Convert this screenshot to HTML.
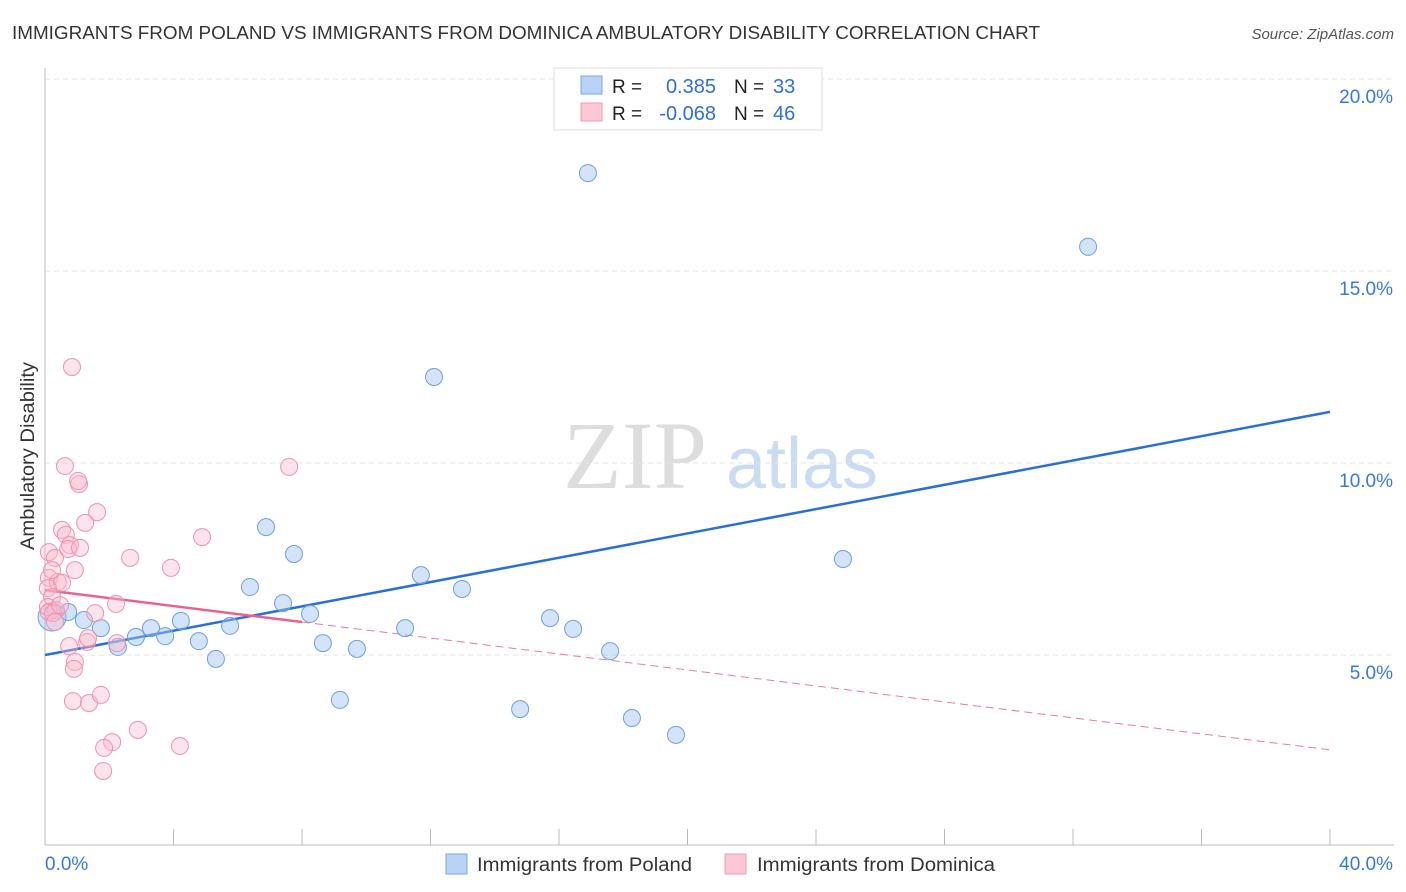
<!DOCTYPE html>
<html><head><meta charset="utf-8"><style>
body{margin:0;background:#fff;font-family:"Liberation Sans",sans-serif;}
svg{display:block}
</style></head><body>
<svg id="chart" width="1406" height="892" viewBox="0 0 1406 892" xmlns="http://www.w3.org/2000/svg">
<text x="12" y="39" font-size="18" fill="#333" textLength="1028" lengthAdjust="spacingAndGlyphs">IMMIGRANTS FROM POLAND VS IMMIGRANTS FROM DOMINICA AMBULATORY DISABILITY CORRELATION CHART</text>
<text x="1394" y="39" font-size="15" fill="#555" font-style="italic" text-anchor="end">Source: ZipAtlas.com</text>
<g>
<text x="635" y="488" font-size="96" font-family="Liberation Serif,serif" fill="#ddd" text-anchor="middle">ZIP</text>
<text x="802" y="488" font-size="72" fill="#c9dcf2" text-anchor="middle">atlas</text>
</g>
<g id="grid"></g>
<g id="axes"></g>
<text transform="translate(34,456) rotate(-90)" font-size="19" fill="#333" text-anchor="middle" textLength="188" lengthAdjust="spacingAndGlyphs">Ambulatory Disability</text>
<g id="lines"></g>
<g id="pts"></g>
<g>
<rect x="554" y="68" width="268" height="62" fill="#fff" stroke="#ddd"/>
<rect x="581" y="76" width="21" height="18" fill="#b8d3f5" stroke="#7aa7e4"/>
<rect x="581" y="103" width="21" height="18" fill="#fcc8d8" stroke="#f09ab5"/>
<text x="612" y="93" font-size="19" fill="#222">R =</text>
<text x="716" y="93" font-size="20" fill="#2f6fd6" text-anchor="end">0.385</text>
<text x="734" y="93" font-size="19" fill="#222">N =</text>
<text x="773" y="93" font-size="20" fill="#2f6fd6">33</text>
<text x="612" y="120" font-size="19" fill="#222">R =</text>
<text x="716" y="120" font-size="20" fill="#2f6fd6" text-anchor="end">-0.068</text>
<text x="734" y="120" font-size="19" fill="#222">N =</text>
<text x="773" y="120" font-size="20" fill="#2f6fd6">46</text>
</g>
<g>
<rect x="446" y="854" width="21" height="20" fill="#b8d3f5" stroke="#7aa7e4"/>
<text x="477" y="871" font-size="19" fill="#333" textLength="215" lengthAdjust="spacingAndGlyphs">Immigrants from Poland</text>
<rect x="725" y="854" width="21" height="20" fill="#fcc8d8" stroke="#f09ab5"/>
<text x="757" y="871" font-size="19" fill="#333" textLength="238" lengthAdjust="spacingAndGlyphs">Immigrants from Dominica</text>
</g>
</svg>
<script>
const blueX=[0.22,0.72,1.21,1.74,2.27,2.83,3.30,3.74,4.23,4.79,5.32,5.76,6.38,6.88,7.41,7.75,8.25,8.65,9.18,9.71,11.21,11.70,12.11,12.98,14.79,15.72,16.44,16.90,17.59,18.27,19.64,24.84,32.47];
const blueY=[5.99,6.12,5.91,5.70,5.21,5.47,5.70,5.49,5.89,5.36,4.90,5.76,6.77,8.33,6.35,7.63,6.07,5.31,3.83,5.16,5.70,7.08,12.24,6.72,3.59,5.96,5.68,17.55,5.10,3.36,2.92,7.50,15.63];
const pinkX=[0.84,0.62,1.06,1.03,1.62,1.25,0.53,0.65,0.78,0.72,0.12,0.31,0.93,0.12,0.40,0.53,0.09,0.22,0.09,0.34,0.12,0.25,1.56,2.21,2.65,3.92,4.89,7.60,0.75,1.31,1.34,0.93,0.90,2.24,0.87,1.37,1.74,2.89,2.09,1.84,4.20,1.81,0.47,0.22,0.31,1.09];
const pinkY=[12.50,9.92,9.45,9.53,8.72,8.44,8.26,8.13,7.86,7.76,7.68,7.53,7.21,7.01,6.90,6.88,6.74,6.51,6.25,6.17,6.12,6.09,6.09,6.33,7.53,7.27,8.07,9.90,5.23,5.34,5.44,4.82,4.64,5.31,3.80,3.75,3.96,3.05,2.73,2.58,2.63,1.98,6.30,7.21,5.86,7.79];
const blueTrend=[5.0,0.1583]; // intercept, slope
const pinkTrend=[6.69,-0.104];
const yTicks=[5,10,15,20];
const yTickLabels=["5.0%","10.0%","15.0%","20.0%"];
const xTickLabels=["0.0%","40.0%"];
const NS="http://www.w3.org/2000/svg";
const X0=45,X1=1330,Y0=847,PPY=192/5;
const sx=v=>X0+(v/40)*(X1-X0);
const sy=v=>Y0-v*PPY;
function mk(tag,attrs,parent){const e=document.createElementNS(NS,tag);for(const k in attrs)e.setAttribute(k,attrs[k]);parent.appendChild(e);return e;}
const grid=document.getElementById('grid'),axes=document.getElementById('axes'),lines=document.getElementById('lines'),pts=document.getElementById('pts');
yTicks.forEach((t,i)=>{
 const l=mk('line',{x1:X0,x2:1394,y1:sy(t),y2:sy(t),stroke:'#e3e3e3','stroke-dasharray':'5,4'},grid);
 
 
 const tx=mk('text',{x:1393,y:sy(t)+24,'font-size':19,fill:'#3a78d8','text-anchor':'end'},grid);
 tx.textContent=yTickLabels[i];
 
 
});
mk('line',{x1:X0,x2:X0,y1:68,y2:845,stroke:'#bbb'},axes);
mk('line',{x1:X0,x2:1394,y1:845,y2:845,stroke:'#bbb'},axes);
for(let i=0;i<=10;i++){const x=sx(i*4);const t=mk('line',{x1:x,x2:x,y1:829,y2:845,stroke:'#bbb'},axes);
 
 }
const xl0=mk('text',{x:45,y:870,'font-size':19,fill:'#3a78d8'},axes);xl0.textContent=xTickLabels[0];


const xl1=mk('text',{x:1393,y:870,'font-size':19,fill:'#3a78d8','text-anchor':'end'},axes);xl1.textContent=xTickLabels[1];


const bl=mk('line',{x1:sx(0),y1:sy(blueTrend[0]),x2:sx(40),y2:sy(blueTrend[0]+40*blueTrend[1]),stroke:'#2a6fd6','stroke-width':2.5},lines);


const pd=mk('line',{x1:sx(8),y1:sy(pinkTrend[0]+8*pinkTrend[1]),x2:sx(40),y2:sy(pinkTrend[0]+40*pinkTrend[1]),stroke:'#ec7aa0','stroke-width':1,'stroke-dasharray':'8,5'},lines);


const pl=mk('line',{x1:sx(0),y1:sy(pinkTrend[0]),x2:sx(8),y2:sy(pinkTrend[0]+8*pinkTrend[1]),stroke:'#e8648f','stroke-width':2.5},lines);


blueX.forEach((x,i)=>{const c=mk('circle',{cx:sx(x),cy:sy(blueY[i]),r:i===0?14:8.5,fill:'rgba(160,195,240,0.45)',stroke:'#6e9fe0','stroke-width':1},pts);
 
 });
pinkX.forEach((x,i)=>{const c=mk('circle',{cx:sx(x),cy:sy(pinkY[i]),r:8.5,fill:'rgba(250,185,205,0.4)',stroke:'#ee92b0','stroke-width':1},pts);
 
 });
</script>
</body></html>
